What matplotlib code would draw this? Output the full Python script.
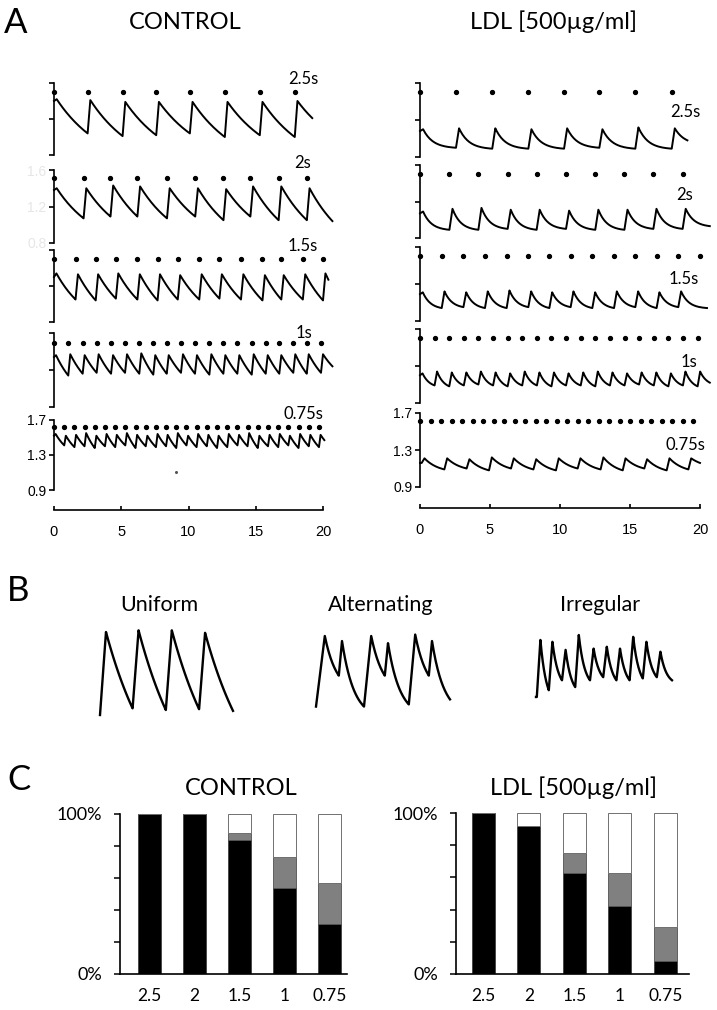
import numpy as np
import matplotlib
matplotlib.use('Agg')
import matplotlib.pyplot as plt

plt.rcParams['font.family'] = ['Lato', 'DejaVu Sans']

# ---------------- panel A data ----------------
# stim = pacing dots, peak / trough = Ca ratio per beat, trough[0] = start value, trough[-1] = end value
cycle_labels = ['2.5s', '2s', '1.5s', '1s', '0.75s']
time_ticks = [0, 5, 10, 15, 20]
ratio_ticks = [0.9, 1.3, 1.7]
faint_ticks = [0.8, 1.2, 1.6]

ctrl_25_stim = [0, 2.5, 5.1, 7.6, 10.1, 12.7, 15.3, 17.9]
ctrl_25_peak = [1.52, 1.51, 1.49, 1.49, 1.49, 1.49, 1.49, 1.50]
ctrl_25_trough = [1.50, 1.14, 1.11, 1.12, 1.14, 1.10, 1.12, 1.10, 1.31]

ctrl_2_stim = [0, 2.2, 4.2, 6.2, 8.4, 10.5, 12.6, 14.6, 16.7, 18.8]
ctrl_2_peak = [1.40, 1.40, 1.43, 1.42, 1.40, 1.40, 1.39, 1.42, 1.42, 1.40]
ctrl_2_trough = [1.38, 1.07, 1.09, 1.09, 1.07, 1.09, 1.05, 1.09, 1.05, 1.05, 1.04]

ctrl_15_stim = [0, 1.6, 3.1, 4.6, 6.2, 7.7, 9.2, 10.8, 12.3, 13.9, 15.5, 16.9, 18.5, 20.0]
ctrl_15_peak = [1.44, 1.43, 1.43, 1.44, 1.43, 1.43, 1.42, 1.43, 1.43, 1.43, 1.42, 1.42, 1.43, 1.44]
ctrl_15_trough = [1.40, 1.15, 1.14, 1.16, 1.15, 1.14, 1.15, 1.15, 1.16, 1.15, 1.14, 1.15, 1.15,
                  1.14, 1.37]

ctrl_1_stim = [0, 1.06, 2.13, 3.17, 4.24, 5.28, 6.34, 7.38, 8.38, 9.44, 10.48, 11.55, 12.59,
               13.63, 14.7, 15.74, 16.75, 17.79, 18.79, 19.85]
ctrl_1_peak = [1.46, 1.47, 1.46, 1.47, 1.46, 1.47, 1.48, 1.46, 1.46, 1.47, 1.46, 1.47, 1.46,
               1.46, 1.47, 1.46, 1.46, 1.47, 1.47, 1.47]
ctrl_1_trough = [1.44, 1.24, 1.26, 1.27, 1.26, 1.27, 1.26, 1.25, 1.26, 1.27, 1.26, 1.25, 1.26,
                 1.26, 1.25, 1.26, 1.26, 1.27, 1.26, 1.27, 1.34]

ctrl_075_stim = [0, 0.76, 1.52, 2.27, 3.03, 3.79, 4.55, 5.3, 6.06, 6.82, 7.58, 8.33, 9.09, 9.85,
                 10.6, 11.36, 12.12, 12.88, 13.64, 14.39, 15.15, 15.91, 16.67, 17.42, 18.18,
                 18.94, 19.7]
ctrl_075_peak = [1.54, 1.52, 1.53, 1.55, 1.52, 1.54, 1.53, 1.55, 1.53, 1.52, 1.54, 1.53, 1.55,
                 1.52, 1.54, 1.53, 1.52, 1.54, 1.53, 1.55, 1.52, 1.53, 1.54, 1.52, 1.54, 1.53, 1.53]
ctrl_075_trough = [1.52, 1.41, 1.39, 1.40, 1.38, 1.40, 1.39, 1.41, 1.38, 1.40, 1.39, 1.40, 1.38,
                   1.41, 1.39, 1.40, 1.38, 1.39, 1.41, 1.40, 1.38, 1.40, 1.39, 1.41, 1.38, 1.40,
                   1.39, 1.47]

ldl_25_stim = [0, 2.57, 5.16, 7.74, 10.29, 12.81, 15.38, 17.98]
ldl_25_peak = [1.20, 1.21, 1.21, 1.20, 1.21, 1.20, 1.22, 1.21]
ldl_25_trough = [1.18, 1.00, 0.99, 0.99, 0.99, 1.00, 0.99, 0.99, 1.08]

ldl_2_stim = [0, 2.1, 4.17, 6.26, 8.33, 10.43, 12.52, 14.6, 16.67, 18.76]
ldl_2_peak = [1.19, 1.22, 1.23, 1.21, 1.21, 1.20, 1.21, 1.21, 1.22, 1.22]
ldl_2_trough = [1.17, 0.99, 0.99, 1.00, 0.99, 1.00, 0.99, 0.99, 1.00, 1.00, 1.03]

ldl_15_stim = [0, 1.55, 3.1, 4.64, 6.19, 7.74, 9.24, 10.76, 12.31, 13.86, 15.38, 16.9, 18.45, 20.0]
ldl_15_beat = [0, 1.55, 3.1, 4.64, 6.19, 7.74, 9.24, 10.76, 12.31, 13.86, 15.38, 16.9, 18.45]
ldl_15_peak = [1.21, 1.22, 1.21, 1.22, 1.23, 1.22, 1.21, 1.22, 1.21, 1.22, 1.22, 1.21, 1.22]
ldl_15_trough = [1.19, 1.04, 1.05, 1.04, 1.04, 1.05, 1.04, 1.05, 1.04, 1.04, 1.05, 1.04, 1.05, 1.04]

ldl_1_stim = [0, 1.04, 2.09, 3.13, 4.17, 5.22, 6.26, 7.3, 8.35, 9.39, 10.43, 11.48, 12.52, 13.57,
              14.61, 15.65, 16.7, 17.74, 18.78, 19.83]
ldl_1_peak = [1.22, 1.24, 1.23, 1.23, 1.24, 1.23, 1.22, 1.24, 1.23, 1.23, 1.22, 1.23, 1.24, 1.23,
              1.22, 1.23, 1.23, 1.22, 1.24, 1.24]
ldl_1_trough = [1.20, 1.09, 1.08, 1.09, 1.10, 1.09, 1.08, 1.09, 1.09, 1.08, 1.09, 1.09, 1.08,
                1.09, 1.09, 1.10, 1.09, 1.08, 1.09, 1.08, 1.12]

ldl_075_stim = [0, 0.75, 1.5, 2.25, 3.0, 3.75, 4.5, 5.26, 6.01, 6.76, 7.51, 8.26, 9.01, 9.76,
                10.51, 11.26, 12.01, 12.76, 13.51, 14.26, 15.01, 15.76, 16.52, 17.27, 18.02,
                18.77, 19.52]
ldl_075_beat = [0.12, 1.74, 3.33, 4.93, 6.5, 8.1, 9.71, 11.26, 12.9, 14.48, 16.02, 17.62, 19.17]
ldl_075_peak = [1.21, 1.21, 1.20, 1.22, 1.21, 1.20, 1.21, 1.21, 1.22, 1.21, 1.20, 1.21, 1.21]
ldl_075_trough = [1.16, 1.09, 1.10, 1.08, 1.10, 1.09, 1.08, 1.10, 1.09, 1.08, 1.10, 1.08, 1.09, 1.16]

ctrl_end = [19.2, 20.7, 20.4, 20.7, 20.1]
ldl_end = [19.1, 20.7, 20.5, 20.7, 20.0]
ctrl_dot_level = [1.60, 1.51, 1.60, 1.59, 1.62]
ldl_dot_level = [1.60, 1.60, 1.60, 1.60, 1.61]

# ---------------- panel B data (arbitrary units) ----------------
uni_beat = [0, 98, 198, 298]
uni_peak = [1.0, 1.02, 1.02, 0.99]
uni_trough = [0.0, 0.08, 0.06, 0.07, 0.05]
uni_end = 400

alt_beat = [0, 57, 120, 172, 232, 282]
alt_rise = [22, 8, 18, 8, 16, 8]
alt_peak = [1.0, 0.93, 1.0, 0.9, 1.02, 0.93]
alt_trough = [0.02, 0.45, 0.02, 0.45, 0.05, 0.45, 0.12]
alt_end = 335

irr_beat = [2, 32, 65, 98, 135, 168, 201, 234, 267, 302]
irr_peak = [0.92, 0.89, 0.76, 1.0, 0.78, 0.81, 0.78, 0.97, 0.89, 0.73]
irr_trough = [0.0, 0.11, 0.27, 0.16, 0.27, 0.32, 0.27, 0.27, 0.30, 0.32, 0.27]
irr_end = 340

# ---------------- panel C data (% of cells) ----------------
cycle_cats = ['2.5', '2', '1.5', '1', '0.75']
ctrl_uniform = [100, 100, 84, 54, 31]
ctrl_alternating = [0, 0, 4, 19, 26]
ctrl_irregular = [0, 0, 12, 27, 43]
ldl_uniform = [100, 92, 63, 42, 8]
ldl_alternating = [0, 0, 12, 21, 21]
ldl_irregular = [0, 8, 25, 37, 71]


def build_trace(beats, peaks, troughs, t_end, rise, tau, n=30):
    if np.isscalar(rise):
        rise = [rise] * len(beats)
    t, v = [], []
    if beats[0] > 0:
        t.append(0.0)
        v.append(troughs[0])
    for i, b in enumerate(beats):
        t.append(b)
        v.append(troughs[i])
        tp = b + rise[i]
        t.append(tp)
        v.append(peaks[i])
        t_next = beats[i + 1] if i + 1 < len(beats) else t_end
        T = t_next - tp
        s = np.linspace(0, 1, n)[1:]
        shape = (np.exp(-s * T / tau) - np.exp(-T / tau)) / (1 - np.exp(-T / tau))
        t.extend(tp + s * T)
        v.extend(troughs[i + 1] + (peaks[i] - troughs[i + 1]) * shape)
    return np.array(t), np.array(v)


W, H = 717, 1010
fig = plt.figure(figsize=(W / 100, H / 100), dpi=100)


def box(x0, y0, x1, y1):
    return fig.add_axes([x0 / W, 1 - y1 / H, (x1 - x0) / W, (y1 - y0) / H])


# ---------------- panel A ----------------
ctrl_sets = [
    (ctrl_25_stim, ctrl_25_stim, ctrl_25_peak, ctrl_25_trough),
    (ctrl_2_stim, ctrl_2_stim, ctrl_2_peak, ctrl_2_trough),
    (ctrl_15_stim, ctrl_15_stim, ctrl_15_peak, ctrl_15_trough),
    (ctrl_1_stim, ctrl_1_stim, ctrl_1_peak, ctrl_1_trough),
    (ctrl_075_stim, ctrl_075_stim, ctrl_075_peak, ctrl_075_trough),
]
ldl_sets = [
    (ldl_25_stim, ldl_25_stim, ldl_25_peak, ldl_25_trough),
    (ldl_2_stim, ldl_2_stim, ldl_2_peak, ldl_2_trough),
    (ldl_15_stim, ldl_15_beat, ldl_15_peak, ldl_15_trough),
    (ldl_1_stim, ldl_1_stim, ldl_1_peak, ldl_1_trough),
    (ldl_075_stim, ldl_075_beat, ldl_075_peak, ldl_075_trough),
]

columns = [
    dict(x0=54, x1=323, sets=ctrl_sets, ends=ctrl_end, dots=ctrl_dot_level,
         rows=[(83, 155), (170, 243), (250, 322), (333, 407), (420, 490)],
         taus=[3.5, 3.0, 2.4, 1.8, 1.2], rises=[0.2, 0.2, 0.18, 0.15, 0.12],
         labels=[(303, 79), (303, 163), (303, 246), (304, 333), (303, 414)],
         outward=14.4),
    dict(x0=420, x1=700, sets=ldl_sets, ends=ldl_end, dots=ldl_dot_level,
         rows=[(83, 157), (165, 238), (247, 321), (329, 403), (413, 487)],
         taus=[0.7, 0.6, 0.55, 0.5, 1.0], rises=[0.22, 0.22, 0.2, 0.18, 0.2],
         labels=[(685, 112), (685, 195), (684, 279), (689, 362), (685, 445)],
         outward=15.1),
]

for ci, col in enumerate(columns):
    for ri, (y0, y1) in enumerate(col['rows']):
        ax = box(col['x0'], y0, col['x1'], y1)
        ax.patch.set_visible(False)
        faint = (ci == 0 and ri == 1)
        ylim = (0.8, 1.6) if faint else (0.9, 1.7)
        ax.set_xlim(0, 20)
        ax.set_ylim(*ylim)
        for s in ['top', 'right', 'bottom']:
            ax.spines[s].set_visible(False)
        ax.spines['left'].set_linewidth(1.2)
        ax.set_yticks(faint_ticks if faint else ratio_ticks)
        ax.tick_params(axis='y', direction='out', length=3.5, width=1.2, pad=2)
        if faint:
            ax.set_yticklabels([str(v) for v in faint_ticks], color='#e6e6e6',
                               fontfamily='Liberation Sans', fontsize=10)
        elif ri == 4:
            ax.set_yticklabels([str(v) for v in ratio_ticks],
                               fontfamily='Liberation Sans', fontsize=10)
        else:
            ax.set_yticklabels([])

        stim, beats, peaks, troughs = col['sets'][ri]
        t, v = build_trace(beats, peaks, troughs, col['ends'][ri], col['rises'][ri],
                           col['taus'][ri])
        ax.plot(t, v, color='black', lw=1.4, clip_on=False, solid_joinstyle='round')
        ax.plot(stim, [col['dots'][ri]] * len(stim), 'o', color='black', ms=2.8,
                clip_on=False)

        lx, ly = col['labels'][ri]
        fig.text(lx / W, 1 - ly / H, cycle_labels[ri], fontsize=12, ha='center',
                 va='center')

        if ri == 4:
            ax.spines['bottom'].set_visible(True)
            ax.spines['bottom'].set_position(('outward', col['outward']))
            ax.spines['bottom'].set_linewidth(1.2)
            ax.set_xticks(time_ticks)
            ax.set_xticklabels([str(v) for v in time_ticks],
                               fontfamily='Liberation Sans', fontsize=10.5)
            ax.tick_params(axis='x', direction='in', length=3, width=1.2, pad=11)
            if ci == 0:
                ax.plot([9.07], [1.105], 'o', color='#555555', ms=1.2)
        else:
            ax.set_xticks([])

fig.text(4 / W, 1 - 33 / H, 'A', fontsize=25, ha='left', va='baseline')
fig.text(185 / W, 1 - 29 / H, 'CONTROL', fontsize=17, ha='center', va='baseline')
fig.text(554 / W, 1 - 29 / H, 'LDL [500µg/ml]', fontsize=17, ha='center', va='baseline')

# ---------------- panel B ----------------
fig.text(7 / W, 1 - 601 / H, 'B', fontsize=25, ha='left', va='baseline')
b_panels = [
    ('Uniform', 159, (100, 632, 233, 715), uni_beat, uni_peak, uni_trough, uni_end, 18, 150),
    ('Alternating', 381, (316, 636, 450, 708), alt_beat, alt_peak, alt_trough, alt_end,
     alt_rise, 30),
    ('Irregular', 600, (536, 635, 672, 697), irr_beat, irr_peak, irr_trough, irr_end, 9, 15),
]
for name, cx, rect, beats, peaks, troughs, t_end, rise, tau in b_panels:
    fig.text(cx / W, 1 - 611 / H, name, fontsize=15.5, ha='center', va='baseline')
    ax = box(*rect)
    t, v = build_trace(beats, peaks, troughs, t_end, rise, tau)
    ax.plot(t, v, color='black', lw=1.7, clip_on=False, solid_joinstyle='round')
    ax.set_xlim(0, t_end)
    ax.set_ylim(0, 1.0)
    ax.axis('off')

# ---------------- panel C ----------------
fig.text(7 / W, 1 - 790 / H, 'C', fontsize=25, ha='left', va='baseline')
c_panels = [
    ('CONTROL', 241, (120, 814, 347, 974), (-0.656, 4.39),
     ctrl_uniform, ctrl_alternating, ctrl_irregular),
    ('LDL [500µg/ml]', 574, (456, 813, 689, 974), (-0.6, 4.52),
     ldl_uniform, ldl_alternating, ldl_irregular),
]
for title, cx, rect, xlim, uni, alt, irr in c_panels:
    fig.text(cx / W, 1 - 795 / H, title, fontsize=17, ha='center', va='baseline')
    ax = box(*rect)
    x = np.arange(len(cycle_cats))
    uni = np.array(uni)
    alt = np.array(alt)
    irr = np.array(irr)
    ax.bar(x, uni, width=0.51, color='black', edgecolor='#404040', lw=0.6)
    ax.bar(x, alt, width=0.51, bottom=uni, color='#808080', edgecolor='#505050', lw=0.6)
    ax.bar(x, irr, width=0.51, bottom=uni + alt, color='white', edgecolor='#707070', lw=0.7)
    ax.set_xlim(*xlim)
    ax.set_ylim(0, 100)
    for s in ['top', 'right']:
        ax.spines[s].set_visible(False)
    ax.spines['left'].set_linewidth(1.2)
    ax.spines['bottom'].set_linewidth(1.2)
    ax.set_yticks([0, 20, 40, 60, 80, 100])
    ax.set_yticklabels(['0%', '', '', '', '', '100%'], fontsize=13)
    ax.tick_params(axis='y', direction='out', length=4, width=1.1, pad=9)
    ax.set_xticks(x)
    ax.set_xticklabels(cycle_cats, fontsize=12.5)
    ax.tick_params(axis='x', length=0, pad=10)

fig.savefig('out.png', dpi=100)
